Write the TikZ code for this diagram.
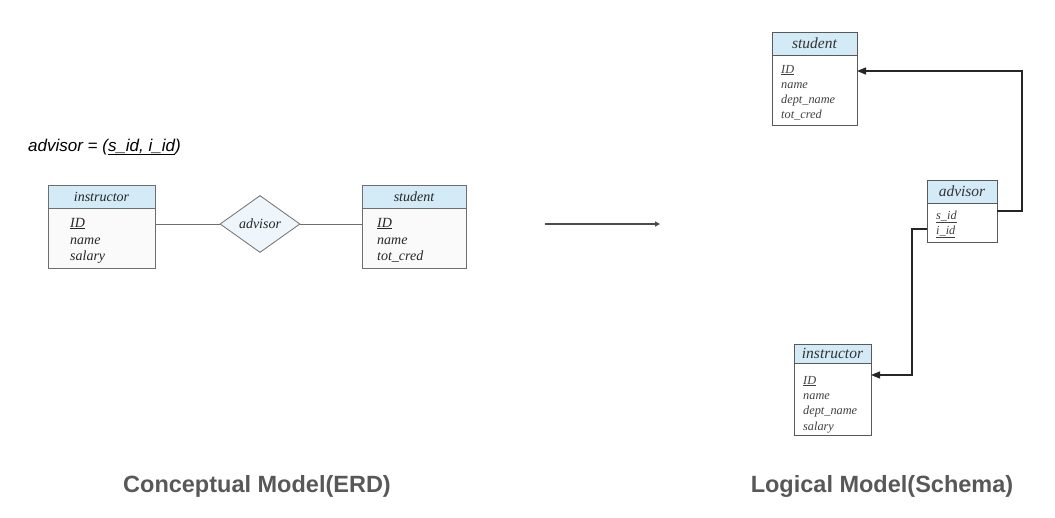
\documentclass[tikz,border=0pt]{standalone}
\usepackage{fontspec}
\setmainfont{Liberation Serif}
\setsansfont{Liberation Sans}
\usetikzlibrary{arrows.meta,shapes.geometric}
\definecolor{hdrblue}{HTML}{D3EAF7}
\definecolor{dmdblue}{HTML}{EEF6FB}
\definecolor{bodygray}{HTML}{FAFAFA}
\definecolor{erdline}{HTML}{6E6E6E}
\definecolor{capgray}{HTML}{585858}
\tikzset{
  erdbox/.style={draw=erdline, fill=bodygray, line width=0.8pt, outer sep=0pt, inner sep=0pt, anchor=north west},
  erdhdr/.style={draw=erdline, fill=hdrblue, line width=0.8pt, outer sep=0pt, inner sep=0pt, anchor=north west, font=\fontsize{14}{16}\selectfont\itshape, text=black!85},
  erdattr/.style={anchor=base west, inner sep=0pt, font=\fontsize{14}{16}\selectfont\itshape, text=black!85},
  schbox/.style={draw=black!65, fill=white, line width=0.9pt, outer sep=0pt, inner sep=0pt, anchor=north west},
  schhdr/.style={draw=black!65, fill=hdrblue, line width=0.9pt, outer sep=0pt, inner sep=0pt, anchor=north west, font=\fontsize{15.5}{17}\selectfont\itshape, text=black!80},
  schattr/.style={anchor=base west, inner sep=0pt, font=\fontsize{12.3}{14}\selectfont\itshape, text=black!75},
  erdlink/.style={draw=erdline, line width=0.9pt},
  schlink/.style={draw=black!85, line width=1.3pt, -{Triangle[length=9pt,width=7pt]}},
  midarrow/.style={draw=black!70, line width=1.2pt, -{Triangle[length=5pt,width=5pt]}},
  caption/.style={font=\fontsize{23.5}{27}\selectfont\sffamily\bfseries, text=capgray, inner sep=0pt},
  titletext/.style={anchor=west, inner sep=0pt, font=\fontsize{17}{19}\selectfont\sffamily\itshape, text=black}
}
\begin{document}
\begin{tikzpicture}[x=1pt,y=-1pt]
\useasboundingbox (0,0) rectangle (1055,517);

% title
\node[titletext] (title) at (28,147) {advisor = (\underline{s\_id, i\_id})};

% ERD instructor
\node[erdbox, minimum width=107pt, minimum height=83pt] (ei) at (48,185) {};
\node[erdhdr, minimum width=107pt, minimum height=23pt] (eih) at (48,185) {instructor};
\node[erdattr] (ei1) at (70,227) {\underline{ID}};
\node[erdattr] (ei2) at (70,244) {name};
\node[erdattr] (ei3) at (70,260) {salary};

% ERD relationship
\node[diamond, draw=erdline, fill=dmdblue, line width=0.8pt, minimum width=80pt, minimum height=57pt, inner sep=0pt, font=\fontsize{14}{16}\selectfont\itshape, text=black!85] (rel) at (260,224) {advisor};

% ERD student
\node[erdbox, minimum width=104pt, minimum height=83pt] (es) at (362,185) {};
\node[erdhdr, minimum width=104pt, minimum height=23pt] (esh) at (362,185) {student};
\node[erdattr] (es1) at (377,227) {\underline{ID}};
\node[erdattr] (es2) at (377,244) {name};
\node[erdattr] (es3) at (377,260) {tot\_cred};

\draw[erdlink] (rel.west) -- (rel.west -| ei.east);
\draw[erdlink] (rel.east) -- (rel.east -| es.west);

% middle arrow
\coordinate (m1) at (545,224);
\coordinate (m2) at (660,224);
\draw[midarrow] (m1) -- (m2);

% Schema student
\node[schbox, minimum width=85pt, minimum height=93pt] (ss) at (772,32) {};
\node[schhdr, minimum width=85pt, minimum height=23pt] (ssh) at (772,32) {student};
\node[schattr] (ss1) at (781,73) {\underline{ID}};
\node[schattr] (ss2) at (781,88) {name};
\node[schattr] (ss3) at (781,103) {dept\_name};
\node[schattr] (ss4) at (781,118) {tot\_cred};

% Schema advisor
\node[schbox, minimum width=70pt, minimum height=62pt] (sa) at (927,180) {};
\node[schhdr, minimum width=70pt, minimum height=23pt] (sah) at (927,180) {advisor};
\node[schattr] (sa1) at (936,219) {\underline{s\_id}};
\node[schattr] (sa2) at (936,234) {\underline{i\_id}};

% Schema instructor
\node[schbox, minimum width=77pt, minimum height=91pt] (si) at (794,344) {};
\node[schhdr, minimum width=77pt, minimum height=19pt] (sih) at (794,344) {instructor};
\node[schattr] (si1) at (803,384) {\underline{ID}};
\node[schattr] (si2) at (803,399) {name};
\node[schattr] (si3) at (803,414) {dept\_name};
\node[schattr] (si4) at (803,430) {salary};

% Schema links
\draw[schlink] (sa.east) -- ++(25,0) |- ([yshift=7.5pt]ss.east);
\draw[schlink] ([yshift=-18pt]sa.west) -- ++(-15,0) |- ([yshift=14.5pt]si.east);

% captions
\node[caption] (c1) at (257,486) {Conceptual Model(ERD)};
\node[caption] (c2) at (882,486) {Logical Model(Schema)};
\end{tikzpicture}
\end{document}
